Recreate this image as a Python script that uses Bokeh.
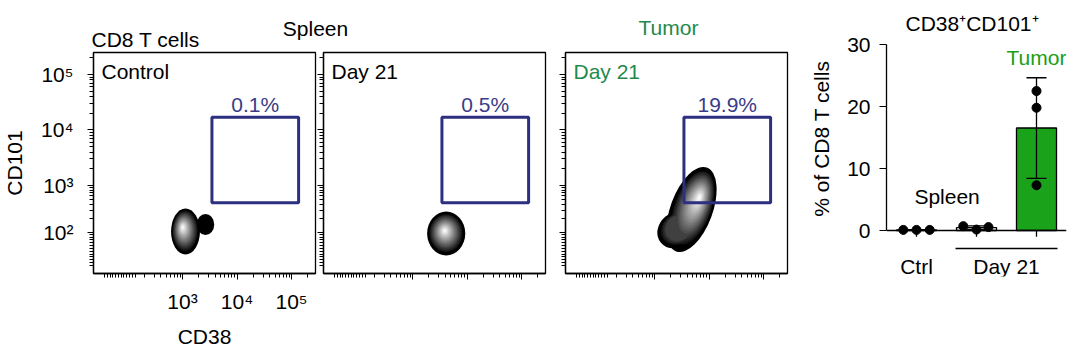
import numpy as np
from bokeh.plotting import figure
from bokeh.layouts import row, column
from bokeh.models import FixedTicker, Range1d, Span
from bokeh.core.properties import value
from bokeh.embed import file_html
from bokeh.resources import INLINE

FONT = "Liberation Sans"
NAVY = "#2d2f80"
PCT_COLOR = "#3a3c88"
FLOW_GREEN = "#1f8a4c"
BAR_GREEN = "#1aa31a"
TEXT_GREEN = "#18a018"

# ---------------- flow cytometry panels (display units: decades, logicle-like) ----------------
HEADER_TITLES = ["CD8 T cells", "Spleen", "Tumor"]
PANEL_TITLES = ["Control", "Day 21", "Day 21"]
PANEL_TITLE_COLORS = ["black", "black", FLOW_GREEN]
GATE_PERCENT = ["0.1%", "0.5%", "19.9%"]
GATE_CD38 = [3.54, 5.13]
GATE_CD101 = [2.69, 4.23]

X_RANGE = (1.367, 5.44)
Y_RANGE = (1.414, 5.396)
X_TICKS = [3, 4, 5]
X_TICK_LABELS = ["10³", "10⁴", "10⁵"]
Y_TICKS = [2.153, 3, 4, 5]
Y_TICK_LABELS = ["10²", "10³", "10⁴", "10⁵"]

# density blobs of the three samples (ellipses in display decades)
BLOB_X = [[3.055, 3.422], [3.618], [3.400, 3.680]]
BLOB_Y = [[2.171, 2.297], [2.135], [2.200, 2.567]]
BLOB_W = [[0.53, 0.32], [0.70], [0.74, 1.64]]
BLOB_H = [[0.83, 0.38], [0.79], [0.62, 0.76]]
BLOB_ANGLE = [[0.0, 0.0], [0.0], [0.7, 1.22]]
BLOB_HOT_X = [[3.000, 3.422], [3.589], [3.560, 3.830]]
BLOB_HOT_Y = [[2.250, 2.297], [2.189], [2.330, 2.790]]
BLOB_PEAK = [[1.0, 0.0], [1.0], [0.22, 1.0]]

N_LEVELS = 18
SHADE_SCALE = [1.0] + [float(v) for v in np.linspace(0.86, 0.06, N_LEVELS - 1)]
SHADE_GRAY = [0] + [int(v) for v in np.linspace(22, 250, N_LEVELS - 1)]
SHADES = ["#%02x%02x%02x" % (g, g, g) for g in SHADE_GRAY]

# ---------------- bar chart ----------------
BAR_TITLE = "CD38⁺CD101⁺"
GROUP_LABELS = ["Ctrl", "Day 21"]
CTRL = [0.1, 0.1, 0.1]
SPLEEN_D21 = [0.7, 0.15, 0.55]
TUMOR_D21 = [22.5, 19.8, 7.3]
JITTER = [[-0.22, 0.0, 0.22], [-0.22, 0.0, 0.2], [0.0, 0.0, 0.0]]
BAR_TICKS = [0, 10, 20, 30]


def log_minor(decades, lo, hi):
    out = []
    for d in decades:
        for k in range(2, 10):
            v = d + np.log10(k)
            if lo < v < hi:
                out.append(float(v))
    return out


X_MINOR = log_minor([2, 3, 4, 5], *X_RANGE) + [float(v) for v in np.linspace(1.57, 2.13, 12)]
Y_MINOR = (log_minor([3, 4, 5], *Y_RANGE)
           + [float(2.153 + 0.847 * np.log10(k)) for k in range(2, 10)]
           + [float(v) for v in np.linspace(1.56, 2.12, 12)])


def style_axis(ax):
    ax.axis_line_color = "black"
    ax.axis_line_width = 1.3
    ax.major_tick_out = 6
    ax.major_tick_in = 0
    ax.minor_tick_out = 4
    ax.minor_tick_in = 0
    ax.major_tick_line_color = "black"
    ax.minor_tick_line_color = "black"
    ax.major_label_text_font = FONT
    ax.major_label_text_font_size = "21px"
    ax.major_label_text_color = "black"
    ax.axis_label_text_font = FONT
    ax.axis_label_text_font_size = "21px"
    ax.axis_label_text_font_style = "normal"
    ax.axis_label_text_color = "black"


def make_flow(i, border_left, show_labels):
    p = figure(frame_width=222, frame_height=221,
               x_range=Range1d(*X_RANGE), y_range=Range1d(*Y_RANGE),
               min_border_left=border_left, min_border_right=2,
               min_border_top=1, min_border_bottom=80,
               toolbar_location=None, output_backend="svg")
    p.grid.visible = False
    p.outline_line_color = "black"
    p.outline_line_width = 1.3
    p.xaxis.ticker = FixedTicker(ticks=X_TICKS, minor_ticks=X_MINOR)
    p.yaxis.ticker = FixedTicker(ticks=Y_TICKS, minor_ticks=Y_MINOR)
    style_axis(p.xaxis[0])
    style_axis(p.yaxis[0])
    if show_labels:
        p.xaxis.major_label_overrides = dict(zip(X_TICKS, X_TICK_LABELS))
        p.yaxis.major_label_overrides = dict(zip(Y_TICKS, Y_TICK_LABELS))
        p.xaxis.axis_label = "CD38"
        p.yaxis.axis_label = "CD101"
        p.xaxis.major_label_standoff = 10
        p.xaxis.axis_label_standoff = 9
        p.yaxis.major_label_standoff = 14
        p.yaxis.axis_label_standoff = 12
    else:
        p.xaxis.major_label_overrides = {t: "" for t in X_TICKS}
        p.yaxis.major_label_overrides = {t: "" for t in Y_TICKS}
        p.xaxis.major_label_standoff = 0
        p.yaxis.major_label_standoff = 0
        p.xaxis.major_label_text_font_size = "0px"
        p.yaxis.major_label_text_font_size = "0px"

    # density blob: union of ellipses, shaded level by level
    n = len(BLOB_X[i])
    for k in range(N_LEVELS):
        xs, ys, ws, hs, an = [], [], [], [], []
        s = SHADE_SCALE[k]
        for j in range(n):
            if k > round(BLOB_PEAK[i][j] * (N_LEVELS - 1)):
                continue
            bx, by = BLOB_X[i][j], BLOB_Y[i][j]
            hx, hy = BLOB_HOT_X[i][j], BLOB_HOT_Y[i][j]
            xs.append(bx + (hx - bx) * (1 - s))
            ys.append(by + (hy - by) * (1 - s))
            ws.append(BLOB_W[i][j] * s)
            hs.append(BLOB_H[i][j] * s)
            an.append(BLOB_ANGLE[i][j])
        if xs:
            p.ellipse(x=xs, y=ys, width=ws, height=hs, angle=an,
                      fill_color=SHADES[k], line_color=None)

    # gate
    p.quad(left=[GATE_CD38[0]], right=[GATE_CD38[1]],
           bottom=[GATE_CD101[0]], top=[GATE_CD101[1]],
           fill_color=None, line_color=NAVY, line_width=3)
    p.text(x=[(GATE_CD38[0] + GATE_CD38[1]) / 2], y=[GATE_CD101[1]], text=[GATE_PERCENT[i]],
           text_align="center", text_baseline="middle", y_offset=-13,
           text_font=value(FONT), text_font_size="21px", text_color=PCT_COLOR)
    p.text(x=[X_RANGE[0]], y=[Y_RANGE[1]], text=[PANEL_TITLES[i]],
           text_align="left", text_baseline="middle", x_offset=8, y_offset=18.5,
           text_font=value(FONT), text_font_size="21px", text_color=PANEL_TITLE_COLORS[i])
    return p


f1 = make_flow(0, 89, True)
f2 = make_flow(1, 6, False)
f3 = make_flow(2, 18, False)

# header with panel titles (pixel-unit canvas above the flow panels)
HDR_H = 51
hdr = figure(width=785, height=HDR_H, x_range=Range1d(0, 785), y_range=Range1d(0, HDR_H),
             min_border=0, toolbar_location=None, output_backend="svg",
             x_axis_type=None, y_axis_type=None)
hdr.outline_line_color = None
hdr.text(x=[91], y=[HDR_H - 39], text=[HEADER_TITLES[0]], text_align="left", text_baseline="middle",
         text_font=value(FONT), text_font_size="21px", text_color="black")
hdr.text(x=[315], y=[HDR_H - 27.5], text=[HEADER_TITLES[1]], text_align="center", text_baseline="middle",
         text_font=value(FONT), text_font_size="21px", text_color="black")
hdr.text(x=[668], y=[HDR_H - 27.2], text=[HEADER_TITLES[2]], text_align="center", text_baseline="middle",
         text_font=value(FONT), text_font_size="21px", text_color=FLOW_GREEN)

# ---------------- bar chart ----------------
groups = [CTRL, SPLEEN_D21, TUMOR_D21]
xpos = [1, 2, 3]
means = [float(np.mean(g)) for g in groups]
sds = [float(np.std(g, ddof=1)) for g in groups]

pb = figure(frame_width=180, frame_height=276,
            x_range=Range1d(0.5, 3.5), y_range=Range1d(-7.42, 37.1),
            min_border_left=97, min_border_right=18, min_border_top=0, min_border_bottom=77,
            toolbar_location=None, output_backend="svg", x_axis_type=None)
pb.grid.visible = False
pb.outline_line_color = None
pb.yaxis.ticker = FixedTicker(ticks=BAR_TICKS)
pb.yaxis.bounds = (BAR_TICKS[0], BAR_TICKS[-1])
pb.yaxis.axis_label = "% of CD8 T cells"
style_axis(pb.yaxis[0])
pb.yaxis.major_tick_out = 7
pb.yaxis.minor_tick_out = 0
pb.yaxis.minor_tick_line_color = None
pb.yaxis.major_label_standoff = 9
pb.yaxis.axis_label_standoff = 11

pb.add_layout(Span(location=0, dimension="width", line_color="black", line_width=1.3))
pb.vbar(x=xpos, top=means, width=0.667, bottom=0,
        fill_color=["white", "white", BAR_GREEN], line_color="black", line_width=1.3)
pb.segment(x0=xpos, y0=[0] * 3, x1=xpos, y1=[-1.0] * 3, line_color="black", line_width=1.3)
lo = [m - s for m, s in zip(means, sds)]
hi = [m + s for m, s in zip(means, sds)]
pb.segment(x0=xpos, y0=lo, x1=xpos, y1=hi, line_color="black", line_width=1.3)
pb.segment(x0=[x - 0.167 for x in xpos], y0=hi, x1=[x + 0.167 for x in xpos], y1=hi,
           line_color="black", line_width=1.3)
pb.segment(x0=[x - 0.167 for x in xpos], y0=lo, x1=[x + 0.167 for x in xpos], y1=lo,
           line_color="black", line_width=1.3)
px_, py_ = [], []
for x, g, jit in zip(xpos, groups, JITTER):
    for v, dj in zip(g, jit):
        px_.append(x + dj)
        py_.append(v)
pb.scatter(x=px_, y=py_, size=9, color="black")

pb.segment(x0=[1.65], y0=[-2.9], x1=[3.35], y1=[-2.9], line_color="black", line_width=1.3)
pb.text(x=[1, 2.5], y=[-5.77, -5.77], text=GROUP_LABELS, text_align="center", text_baseline="middle",
        text_font=value(FONT), text_font_size="21px", text_color="black")
pb.text(x=[1.51], y=[5.48], text=["Spleen"], text_align="center", text_baseline="middle",
        text_font=value(FONT), text_font_size="21px", text_color="black")
pb.text(x=[3.0], y=[27.9], text=["Tumor"], text_align="center", text_baseline="middle",
        text_font=value(FONT), text_font_size="21px", text_color=TEXT_GREEN)
pb.text(x=[1.925], y=[33.4], text=[BAR_TITLE], text_align="center", text_baseline="middle",
        text_font=value(FONT), text_font_size="21px", text_color="black")

layout = row(column(hdr, row(f1, f2, f3)), pb)
open("out.html", "w").write(file_html(layout, INLINE))
